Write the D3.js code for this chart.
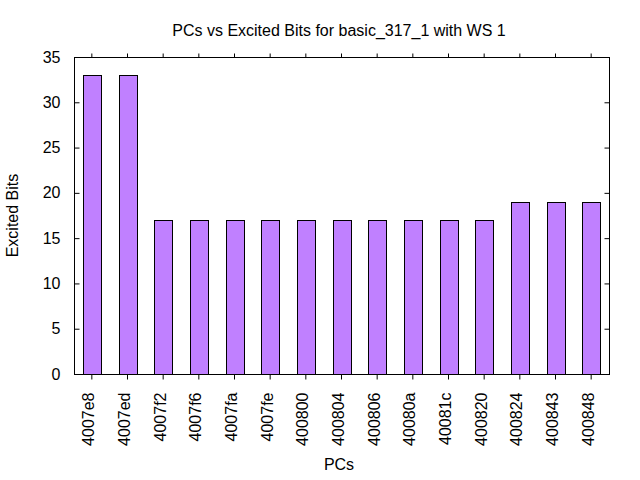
<!DOCTYPE html>
<html>
<head>
<meta charset="utf-8">
<script src="https://cdn.jsdelivr.net/npm/d3@7"></script>
<style>
  body { margin: 0; background: #fff; }
  text { font-family: "Liberation Sans", Arial, sans-serif; font-size: 16px; fill: #000; }
</style>
</head>
<body>
<div id="chart"></div>
<script>
// data
var pcs = ["4007e8", "4007ed", "4007f2", "4007f6", "4007fa", "4007fe", "400800",
  "400804", "400806", "40080a", "40081c", "400820", "400824", "400843", "400848"];
var excitedBits = [33, 33, 17, 17, 17, 17, 17, 17, 17, 17, 17, 17, 19, 19, 19];
var yTicks = [0, 5, 10, 15, 20, 25, 30, 35];

var titleText = "PCs vs Excited Bits for basic_317_1 with WS 1";
var xTitle = "PCs";
var yTitle = "Excited Bits";

// plot box
var margin = { top: 57, right: 31, bottom: 106, left: 74 };
var width = 640 - margin.left - margin.right;
var height = 480 - margin.top - margin.bottom;
var fontSize = "16px";

var svg = d3
  .select("#chart")
  .append("svg")
  .attr("width", 640)
  .attr("height", 480);

var g = svg
  .append("g")
  .attr("transform", "translate(" + margin.left + "," + margin.top + ")");

var xScale = d3.scaleBand().domain(pcs).range([0, width]).padding(0.5).paddingOuter(0.25);
var yScale = d3.scaleLinear().domain([0, 35]).range([height, 0]);

// bars
g.selectAll("rect.bar")
  .data(pcs)
  .enter()
  .append("rect")
  .attr("class", "bar")
  .attr("x", (d) => Math.round(xScale(d)) + 0.5)
  .attr("y", (d, i) => Math.round(yScale(excitedBits[i])) + 0.5)
  .attr("width", Math.round(xScale.bandwidth()))
  .attr("height", (d, i) => Math.round(height - yScale(excitedBits[i])))
  .attr("fill", "#c080ff")
  .attr("stroke", "#000")
  .attr("stroke-width", 1);

// left axis, ticks inward
g.append("g")
  .attr("transform", "translate(0.5,0)")
  .call(d3.axisLeft(yScale).tickValues(yTicks).tickSize(-5).tickPadding(14));
// right axis mirror ticks
g.append("g")
  .attr("transform", "translate(" + (width + 0.5) + ",0)")
  .call(d3.axisRight(yScale).tickValues(yTicks).tickSize(-5).tickFormat(""));

// bottom axis, ticks outward
var xBottom = g.append("g")
  .attr("transform", "translate(0," + (height + 0.5) + ")")
  .call(d3.axisBottom(xScale).tickSize(5).tickPadding(0));
xBottom.selectAll("text")
  .attr("transform", "translate(-3,18) rotate(-90)")
  .attr("x", 0)
  .attr("y", 0)
  .attr("dy", "0.35em")
  .style("text-anchor", "end");

// top mirror ticks, outward
g.append("g")
  .attr("transform", "translate(0,0.5)")
  .call(d3.axisTop(xScale).tickSize(4).tickFormat(""));

g.selectAll(".domain").remove();
g.selectAll(".tick line").attr("stroke", "#000");
g.selectAll(".tick text")
  .style("font-size", fontSize)
  .style("font-family", "'Liberation Sans', Arial, sans-serif")
  .attr("fill", "#000");

// border
g.append("rect")
  .attr("x", 0.5)
  .attr("y", 0.5)
  .attr("width", width)
  .attr("height", height)
  .attr("fill", "none")
  .attr("stroke", "#000")
  .attr("stroke-width", 1);

// titles
svg.append("text")
  .attr("x", 339)
  .attr("y", 36)
  .attr("text-anchor", "middle")
  .text(titleText);

svg.append("text")
  .attr("x", 339)
  .attr("y", 470)
  .attr("text-anchor", "middle")
  .text(xTitle);

svg.append("text")
  .attr("transform", "translate(18," + (margin.top + height / 2) + ") rotate(-90)")
  .attr("text-anchor", "middle")
  .text(yTitle);
</script>
</body>
</html>
